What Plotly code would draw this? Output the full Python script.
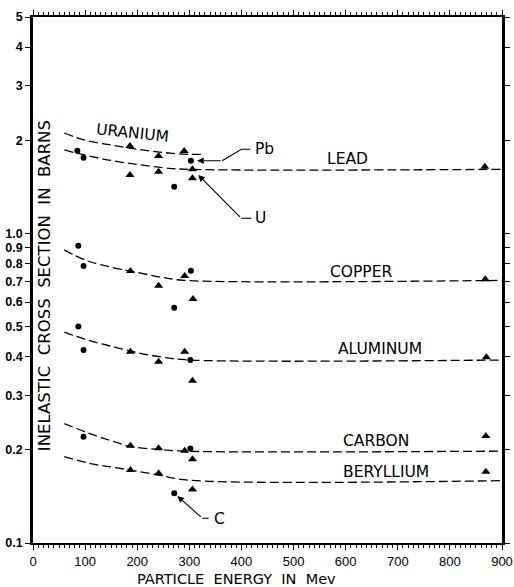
import plotly.graph_objects as go
import math

# ---- data ----
# dots (circles)
dot_x = [85, 97, 303, 271, 87, 97, 303, 271, 87, 97, 302, 97, 302, 271]
dot_y = [1.85, 1.756, 1.717, 1.415, 0.912, 0.785, 0.758, 0.575, 0.50, 0.42, 0.39, 0.2205, 0.202, 0.1447]
# triangles
tri_x = [186, 241, 290,
         186, 241, 306, 306, 867,
         187, 241, 291, 307, 868,
         187, 241, 291, 306, 870,
         187, 241, 291, 306, 869,
         187, 241, 306, 869]
tri_y = [1.916, 1.778, 1.846,
         1.544, 1.582, 1.61, 1.507, 1.643,
         0.756, 0.678, 0.729, 0.614, 0.711,
         0.415, 0.385, 0.415, 0.334, 0.398,
         0.2062, 0.2022, 0.1987, 0.1864, 0.2216,
         0.172, 0.168, 0.149, 0.170]

# dashed fitted curves
curve_x = {
    "URANIUM": [60, 100, 150, 200, 250, 300, 325],
    "LEAD": [60, 100, 150, 200, 250, 300, 900],
    "COPPER": [60, 100, 150, 200, 250, 290, 900],
    "ALUMINUM": [60, 100, 150, 200, 250, 300, 900],
    "CARBON": [60, 116, 150, 187, 241, 290, 900],
    "BERYLLIUM": [60, 116, 150, 187, 241, 300, 900],
}
curve_y = {
    "URANIUM": [2.11, 2.0, 1.93, 1.87, 1.825, 1.80, 1.80],
    "LEAD": [1.86, 1.79, 1.72, 1.67, 1.63, 1.61, 1.61],
    "COPPER": [0.885, 0.82, 0.778, 0.748, 0.72, 0.705, 0.705],
    "ALUMINUM": [0.48, 0.455, 0.432, 0.412, 0.398, 0.39, 0.39],
    "CARBON": [0.243, 0.2233, 0.214, 0.205, 0.2006, 0.198, 0.198],
    "BERYLLIUM": [0.19, 0.1797, 0.176, 0.172, 0.1658, 0.1595, 0.159],
}
label_pos = {
    "URANIUM": (191, 2.105),
    "LEAD": (604, 1.739),
    "COPPER": (631, 0.753),
    "ALUMINUM": (666, 0.423),
    "CARBON": (659, 0.2135),
    "BERYLLIUM": (677, 0.169),
}

# pointer annotations: (text, text x, text y, polyline x, polyline y, head)
pointers = [
    ("Pb", 423, 1.87, [417, 400, 363], [1.87, 1.87, 1.717], (315, 1.717)),
    ("U", 423, 1.119, [419, 400], [1.119, 1.119], (317, 1.544)),
    ("C", 343, 0.1195, [337, 325], [0.1202, 0.1202], (277, 0.1419)),
]

y_tickvals = [0.1, 0.2, 0.3, 0.4, 0.5, 0.6, 0.7, 0.8, 0.9, 1.0, 2, 3, 4, 5]
y_ticktext = ["0.1", "0.2", "0.3", "0.4", "0.5", "0.6", "0.7", "0.8", "0.9", "1.0", "2", "3", "4", "5"]
x_tickvals = [0, 100, 200, 300, 400, 500, 600, 700, 800, 900]

fig = go.Figure()

for name in curve_x:
    fig.add_trace(go.Scatter(x=curve_x[name], y=curve_y[name], mode="lines",
                             line=dict(color="black", width=1.3, dash="9px,4px", shape="spline"),
                             hoverinfo="skip", showlegend=False))

fig.add_trace(go.Scatter(x=dot_x, y=dot_y, mode="markers",
                         marker=dict(symbol="circle", size=6, color="black"), showlegend=False))
fig.add_trace(go.Scatter(x=tri_x, y=tri_y, mode="markers",
                         marker=dict(symbol="triangle-up", size=8, color="black"), showlegend=False))

annots = []
lab_font = dict(family="DejaVu Sans", size=15.5, color="black")
for name, (lx, ly) in label_pos.items():
    annots.append(dict(x=lx, y=math.log10(ly), xref="x", yref="y", text=name, showarrow=False,
                       xanchor="center", yanchor="middle",
                       font=lab_font, textangle=6 if name == "URANIUM" else 0))

for text, tx, ty, px, py, head in pointers:
    fig.add_trace(go.Scatter(x=px, y=py, mode="lines", line=dict(color="black", width=1.1),
                             hoverinfo="skip", showlegend=False))
    annots.append(dict(x=head[0], y=math.log10(head[1]), xref="x", yref="y",
                       ax=px[-1], ay=math.log10(py[-1]), axref="x", ayref="y",
                       text="", showarrow=True, arrowhead=2, arrowsize=1.2, arrowwidth=1.1,
                       arrowcolor="black", standoff=0, startstandoff=0))
    annots.append(dict(x=tx, y=math.log10(ty), xref="x", yref="y", text=text, showarrow=False,
                       xanchor="left", yanchor="middle", font=lab_font))

annots.append(dict(x=0.0233, y=0.49, xref="paper", yref="paper", textangle=-90, showarrow=False,
                   xanchor="center", yanchor="middle",
                   text="INELASTIC\u00a0\u00a0CROSS\u00a0\u00a0SECTION\u00a0\u00a0IN\u00a0\u00a0BARNS",
                   font=dict(family="DejaVu Sans", size=16.5, color="black")))
annots.append(dict(x=0.434, y=-0.0685, xref="paper", yref="paper", showarrow=False,
                   xanchor="center", yanchor="middle",
                   text="PARTICLE\u00a0\u00a0ENERGY\u00a0\u00a0IN\u00a0\u00a0Mev",
                   font=dict(family="DejaVu Sans", size=14.5, color="black")))

xtick_font = dict(family="Liberation Sans Narrow, Liberation Sans, Arial", size=13, color="black")
ytick_font = dict(family="Liberation Sans Narrow, Liberation Sans, Arial", size=12.5, color="black",
                  weight="bold")

fig.update_layout(
    width=514, height=587,
    margin=dict(l=33, r=12, t=17, b=44, autoexpand=False),
    paper_bgcolor="white", plot_bgcolor="white",
    annotations=annots,
    xaxis=dict(range=[0, 900], tickvals=x_tickvals, ticks="outside", ticklen=5, tickwidth=1.3,
               tickcolor="black", showline=True, linecolor="black", linewidth=2, mirror="ticks",
               showgrid=False, zeroline=False, tickfont=xtick_font, automargin=False,
               ticklabeloverflow="allow",
               minor=dict(dtick=10, ticks="outside", ticklen=3, tickwidth=1, tickcolor="black")),
    yaxis=dict(type="log", range=[-1, math.log10(5)], tickvals=y_tickvals, ticktext=y_ticktext,
               ticks="outside", ticklen=5, tickwidth=1.3, tickcolor="black", showline=True,
               linecolor="black", linewidth=2.5, mirror="ticks", showgrid=False, zeroline=False,
               tickfont=ytick_font, automargin=False, ticklabeloverflow="allow"),
)

fig.write_html("out.html")
